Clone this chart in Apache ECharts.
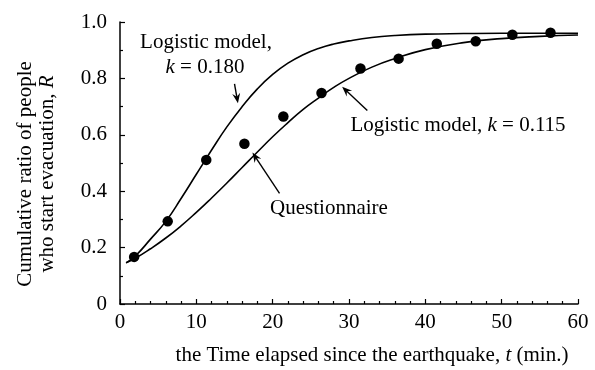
<!DOCTYPE html>
<html>
<head>
<meta charset="utf-8">
<script src="https://cdn.jsdelivr.net/npm/echarts@6/dist/echarts.min.js"></script>
<style>
  html, body {margin: 0; padding: 0; background: #fff;}
  #chart {width: 595px; height: 370px;}
</style>
</head>
<body>
<div id="chart"></div>
<script>
// questionnaire points (t, R)
const surveyT = [1.85, 6.25, 11.3, 16.3, 21.4, 26.4, 31.5, 36.5, 41.5, 46.6, 51.4, 56.4];
const surveyR = [0.167, 0.293, 0.511, 0.568, 0.665, 0.748, 0.835, 0.870, 0.923, 0.932, 0.955, 0.962];

// logistic model k = 0.180
const fastT = [0.8, 2, 4, 6, 8, 10, 12, 14, 16, 18, 20, 22, 24, 26, 28, 30, 33, 36, 40, 45, 50, 60];
const fastR = [0.146, 0.17, 0.23, 0.293, 0.374, 0.46, 0.546, 0.628, 0.70, 0.763, 0.814, 0.854, 0.884, 0.906, 0.922, 0.933, 0.945, 0.952, 0.957, 0.959, 0.96, 0.96];

// logistic model k = 0.115
const slowT = [0.8, 2, 4, 6, 8, 10, 12, 14, 16, 18, 20, 22, 24, 26, 28, 30, 33, 36, 40, 45, 50, 55, 60];
const slowR = [0.146, 0.162, 0.196, 0.234, 0.277, 0.325, 0.376, 0.429, 0.484, 0.539, 0.593, 0.643, 0.69, 0.73, 0.768, 0.80, 0.84, 0.87, 0.902, 0.927, 0.941, 0.949, 0.954];

const xTicks = [0, 10, 20, 30, 40, 50, 60];
const yTickLabels = ['0', '0.2', '0.4', '0.6', '0.8', '1.0'];

const font = 'Liberation Serif, Times New Roman, serif';
const zip = (a, b) => a.map((v, i) => [v, b[i]]);

var myChart = echarts.init(document.getElementById('chart'));

myChart.setOption({
  animation: false,
  textStyle: {fontFamily: font, color: '#000'},
  grid: {left: 120, right: 17, top: 22, bottom: 66},
  xAxis: {
    type: 'value',
    min: xTicks[0],
    max: xTicks[xTicks.length - 1],
    interval: 10,
    splitLine: {show: false},
    axisLine: {lineStyle: {color: '#000', width: 1.5}},
    axisTick: {inside: true, length: 5, lineStyle: {color: '#000', width: 1.2}},
    minorTick: {show: true, splitNumber: 5, length: 3, lineStyle: {color: '#000', width: 1.2}},
    axisLabel: {fontSize: 21, fontFamily: font, color: '#000', margin: 8}
  },
  yAxis: {
    type: 'value',
    min: 0,
    max: 1,
    interval: 0.2,
    splitLine: {show: false},
    axisLine: {show: true, lineStyle: {color: '#000', width: 1.5}},
    axisTick: {show: true, inside: true, length: 5, lineStyle: {color: '#000', width: 1.2}},
    minorTick: {show: true, splitNumber: 2, length: 3, lineStyle: {color: '#000', width: 1.2}},
    axisLabel: {
      fontSize: 21, fontFamily: font, color: '#000', margin: 13,
      formatter: (v) => yTickLabels[Math.round(v / 0.2)]
    }
  },
  series: [
    {
      type: 'line', data: zip(fastT, fastR), smooth: true, showSymbol: false,
      lineStyle: {color: '#000', width: 1.6}
    },
    {
      type: 'line', data: zip(slowT, slowR), smooth: true, showSymbol: false,
      lineStyle: {color: '#000', width: 1.6}
    },
    {
      type: 'scatter', data: zip(surveyT, surveyR), symbolSize: 10.5,
      itemStyle: {color: '#000', opacity: 1}
    }
  ]
});

// annotations
const p = (t, r) => myChart.convertToPixel({gridIndex: 0}, [t, r]);

function arrow(from, to) {
  const a = p(from[0], from[1]);
  const b = p(to[0], to[1]);
  const dx = b[0] - a[0], dy = b[1] - a[1];
  const len = Math.sqrt(dx * dx + dy * dy);
  const ux = dx / len, uy = dy / len;
  const L = 10, W = 4, N = 6.5;
  const head = [
    b,
    [b[0] - ux * L - uy * W, b[1] - uy * L + ux * W],
    [b[0] - ux * N, b[1] - uy * N],
    [b[0] - ux * L + uy * W, b[1] - uy * L - ux * W]
  ];
  return [
    {type: 'line', shape: {x1: a[0], y1: a[1], x2: b[0] - ux * 4, y2: b[1] - uy * 4},
      style: {stroke: '#000', lineWidth: 1.4}},
    {type: 'polygon', shape: {points: head}, style: {fill: '#000'}}
  ];
}

function label(x, y, text) {
  return {
    type: 'text', x: x, y: y,
    style: {
      text: text, align: 'center', verticalAlign: 'middle',
      font: '21px ' + font, fill: '#000',
      rich: {
        n: {fontSize: 21, fontFamily: font},
        i: {fontSize: 21, fontFamily: font, fontStyle: 'italic'}
      }
    }
  };
}

myChart.setOption({
  graphic: [
    ...arrow([15.0, 0.781], [15.45, 0.712]),
    ...arrow([32.4, 0.686], [29.1, 0.77]),
    ...arrow([20.9, 0.392], [17.35, 0.537]),
    label(206, 42, '{n|Logistic model,}'),
    label(205, 67, '{i|k}{n| = 0.180}'),
    label(458, 125, '{n|Logistic model, }{i|k}{n| = 0.115}'),
    label(329, 208, '{n|Questionnaire}'),
    label(372, 355, '{n|the Time elapsed since the earthquake, }{i|t}{n| (min.)}'),
    {
      type: 'text', x: 36, y: 174, rotation: Math.PI / 2,
      style: {
        text: '{n|Cumulative ratio of people}\n{n|who start evacuation, }{i|R}',
        align: 'center', verticalAlign: 'middle', fill: '#000',
        font: '21px ' + font, lineHeight: 22,
        rich: {
          n: {fontSize: 21, fontFamily: font, lineHeight: 22},
          i: {fontSize: 21, fontFamily: font, fontStyle: 'italic', lineHeight: 22}
        }
      }
    }
  ]
});
</script>
</body>
</html>
